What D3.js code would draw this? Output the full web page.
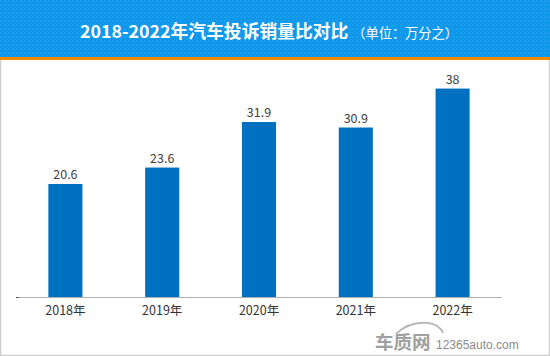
<!DOCTYPE html>
<html><head><meta charset="utf-8">
<script src="https://cdn.jsdelivr.net/npm/d3@7"></script>
<style>
html,body{margin:0;padding:0;background:#fff;}
svg{display:block;font-family:"Microsoft YaHei","Noto Sans CJK SC","Noto Sans",sans-serif;}
</style></head>
<body>
<svg id="chart" width="550" height="356"></svg>
<script>
const categories = ["2018年","2019年","2020年","2021年","2022年"];
const values = [20.6, 23.6, 31.9, 30.9, 38];
const valueLabels = ["20.6","23.6","31.9","30.9","38"];
const titleMain = "2018-2022年汽车投诉销量比对比";
const titleUnit = "（单位：万分之）";

const svg = d3.select("#chart");
const W = 550, H = 356;

// header
const pat = svg.append("defs").append("pattern").attr("id","dots")
  .attr("width",4).attr("height",4).attr("patternUnits","userSpaceOnUse");
pat.append("rect").attr("width",4).attr("height",4).attr("fill","#0f97e9");
pat.append("rect").attr("width",2).attr("height",2).attr("fill","#1a9ded");
svg.append("rect").attr("x",0).attr("y",0).attr("width",W).attr("height",57).attr("fill","url(#dots)");
svg.append("rect").attr("x",0).attr("y",57).attr("width",W).attr("height",3).attr("fill","#f28a00");

// border
svg.append("path").attr("d",`M0.5,60 V355.5 H549.5 V60`).attr("fill","none").attr("stroke","#cfcfcf").attr("stroke-width",1.5);

const t = svg.append("text").attr("x",80).attr("y",38).attr("fill","#fff");
t.append("tspan").attr("font-size",17.8).attr("font-weight","bold").text(titleMain);
t.append("tspan").attr("font-size",13.2).attr("dx",4).text(titleUnit);

// scales
const x = d3.scaleBand().domain(categories).range([17, 501]).paddingInner(0.648).paddingOuter(0.324);
const y = d3.scaleLinear().domain([0, 40]).range([297, 77.6]);

const g = svg.append("g");
g.selectAll("rect.bar").data(values).join("rect").attr("class","bar")
  .attr("x",(d,i)=>x(categories[i])).attr("width",x.bandwidth())
  .attr("y",d=>y(d)).attr("height",d=>y(0)-y(d)).attr("fill","#0070c0");

g.selectAll("text.val").data(values).join("text").attr("class","val")
  .attr("x",(d,i)=>x(categories[i])+x.bandwidth()/2).attr("y",d=>y(d)-5)
  .attr("text-anchor","middle").attr("font-size",12.5).attr("fill","#404040")
  .text((d,i)=>valueLabels[i]);

// axis
const ax = svg.append("g").attr("transform","translate(0,297)")
  .call(d3.axisBottom(x).tickSize(0).tickPadding(9));
ax.select(".domain").attr("stroke","#b0b0b0").attr("stroke-width",1.2).attr("d","M16,0.5H502");
ax.selectAll("text").attr("font-size",12.5).attr("fill","#333").attr("font-family","\"Microsoft YaHei\",\"Noto Sans CJK SC\",sans-serif");
svg.append("line").attr("x1",16).attr("x2",19).attr("y1",297.5).attr("y2",297.5).attr("stroke","#555");

// watermark
const wm = svg.append("g");
wm.append("path").attr("d","M396,334 C404,326 416,322 428,323 C436,324 441,328 443,333")
  .attr("fill","none").attr("stroke","#b8b8b8").attr("stroke-width",2);
wm.append("text").attr("x",375).attr("y",349).attr("font-size",18.5).attr("font-weight","bold").attr("fill","#a0a0a0").text("车质网");
wm.append("text").attr("x",436).attr("y",349).attr("font-size",12).attr("fill","#8a8a8a")
  .attr("font-family","Arial, \"Liberation Sans\", sans-serif").text("12365auto.com");
</script>
</body></html>
